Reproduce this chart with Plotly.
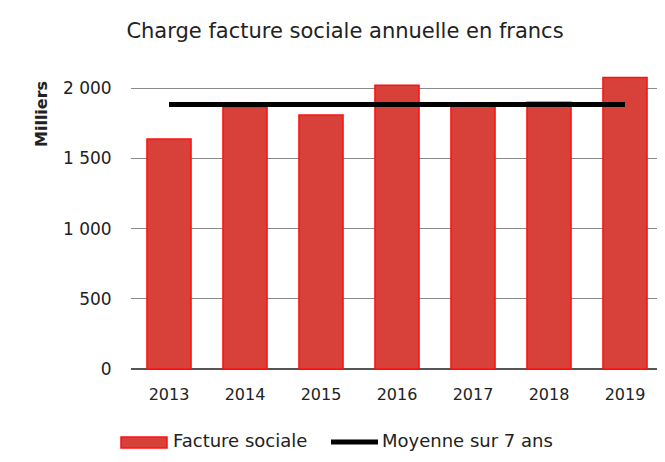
import plotly.graph_objects as go

years = ["2013", "2014", "2015", "2016", "2017", "2018", "2019"]
facture_sociale = [1637, 1867, 1808, 2021, 1870, 1900, 2076]
moyenne_7_ans = [1883, 1883, 1883, 1883, 1883, 1883, 1883]
y_ticks = [0, 500, 1000, 1500, 2000]
y_tick_labels = ["0", "500", "1 000", "1 500", "2 000"]

FONT = "DejaVu Sans"
TXT = "#222222"
BAR_FILL = "#d8403a"
BAR_EDGE = "#ff1010"

W, H = 665, 462
OFF = 8  # page body margin
L, R, T, B = 123, 10, 52, 101
PW, PH = W - L - R, H - T - B


def px(xp):
    return (xp - OFF - L) / PW


def py(yp):
    return (H - B - (yp - OFF)) / PH


fig = go.Figure()
fig.add_trace(go.Bar(
    x=years, y=facture_sociale, name="Facture sociale",
    marker=dict(color=BAR_FILL, line=dict(color=BAR_EDGE, width=1.5)),
    width=0.58, showlegend=False,
))
fig.add_trace(go.Scatter(
    x=years, y=moyenne_7_ans, name="Moyenne sur 7 ans", mode="lines",
    line=dict(color="#000000", width=5), showlegend=False,
))

shapes = [
    dict(type="rect", xref="paper", yref="paper", x0=px(121), x1=px(167), y0=py(448), y1=py(437),
         fillcolor=BAR_FILL, line=dict(color=BAR_EDGE, width=1.5)),
    dict(type="line", xref="paper", yref="paper", x0=px(331), x1=px(378), y0=py(442), y1=py(442),
         line=dict(color="#000000", width=5)),
]

annotations = [
    dict(text="Facture sociale", x=px(171), y=py(441), xref="paper", yref="paper",
         xanchor="left", yanchor="middle", showarrow=False,
         font=dict(family=FONT, size=18, color=TXT)),
    dict(text="Moyenne sur 7 ans", x=px(380), y=py(441), xref="paper", yref="paper",
         xanchor="left", yanchor="middle", showarrow=False,
         font=dict(family=FONT, size=18, color=TXT)),
    dict(text="<b>Milliers</b>", textangle=-90, x=px(41), y=py(114), xref="paper", yref="paper",
         xanchor="center", yanchor="middle", showarrow=False,
         font=dict(family=FONT, size=16, color=TXT)),
]

fig.update_layout(
    width=W, height=H,
    margin=dict(l=L, r=R, t=T, b=B),
    paper_bgcolor="white", plot_bgcolor="white",
    font=dict(family=FONT, size=16, color=TXT),
    title=dict(text="Charge facture sociale annuelle en francs", xref="container", yref="container",
               x=(345 - OFF) / W, xanchor="center",
               y=1 - (31 - OFF) / H, yanchor="middle", font=dict(family=FONT, size=21, color=TXT)),
    showlegend=False,
    xaxis=dict(showgrid=False, ticks="outside", tickcolor="rgba(0,0,0,0)", ticklen=11,
               showline=False, tickfont=dict(size=16)),
    yaxis=dict(range=[0, 2200], tickvals=y_ticks, ticktext=y_tick_labels,
               showgrid=True, gridcolor="#8a8a8a", gridwidth=1,
               zeroline=True, zerolinecolor="#555555", zerolinewidth=1.5,
               ticks="outside", tickcolor="rgba(0,0,0,0)", ticklen=15,
               tickfont=dict(size=17)),
    shapes=shapes,
    annotations=annotations,
)

fig.write_html("out.html")
